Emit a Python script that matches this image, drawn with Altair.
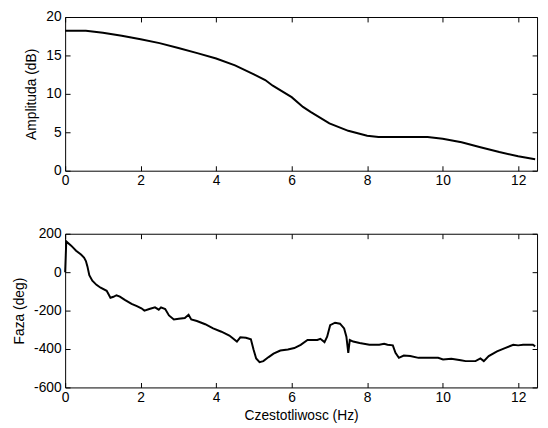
import altair as alt
import pandas as pd

# Amplitude (dB) vs frequency (Hz)
amp_freq = [0.0, 0.55, 1.0, 1.5, 2.0, 2.5, 3.0, 3.5, 4.0, 4.5, 5.0, 5.3, 5.5, 6.0, 6.3,
            6.5, 7.0, 7.5, 8.0, 8.3, 9.0, 9.6, 10.0, 10.5, 11.0, 11.5, 12.0, 12.45]
amp_db = [18.2, 18.2, 17.96, 17.57, 17.1, 16.6, 15.96, 15.3, 14.6, 13.7, 12.55, 11.8, 11.06, 9.57, 8.3,
          7.66, 6.17, 5.19, 4.55, 4.38, 4.38, 4.38, 4.17, 3.7, 3.06, 2.43, 1.87, 1.5]

# Phase (deg) vs frequency (Hz)
ph_freq = [0.0, 0.03, 0.16, 0.29, 0.42, 0.5, 0.55, 0.59, 0.64, 0.72, 0.83, 0.94, 1.1, 1.15, 1.2,
           1.28, 1.36, 1.45, 1.58, 1.76, 1.9, 2.02, 2.1, 2.23, 2.38, 2.48, 2.54, 2.65, 2.75, 2.88,
           3.01, 3.17, 3.27, 3.34, 3.49, 3.71, 3.92, 4.14, 4.35, 4.55, 4.64, 4.79, 4.92, 4.99, 5.06,
           5.15, 5.25, 5.39, 5.52, 5.7, 5.9, 6.07, 6.24, 6.42, 6.68, 6.76, 6.87, 6.94, 7.02, 7.15,
           7.28, 7.39, 7.45, 7.5, 7.54, 7.63, 7.8, 8.06, 8.32, 8.45, 8.54, 8.68, 8.75, 8.84, 8.97,
           9.14, 9.36, 9.88, 10.01, 10.23, 10.48, 10.61, 10.87, 11.0, 11.09, 11.22, 11.44, 11.65, 11.87,
           12.0, 12.13, 12.39, 12.45]
ph_deg = [0, 160, 138, 112, 92, 76, 58, 30, -16, -44, -66, -81, -97, -115, -133,
          -128, -120, -127, -144, -165, -177, -188, -200, -192, -183, -195, -183, -192, -225, -246,
          -242, -239, -222, -246, -254, -271, -293, -310, -330, -361, -339, -341, -349, -403, -449,
          -468, -463, -442, -424, -408, -402, -395, -378, -353, -353, -347, -364, -336, -276, -263,
          -268, -293, -336, -420, -353, -361, -369, -378, -378, -373, -378, -381, -420, -446, -434,
          -436, -446, -446, -454, -451, -458, -463, -463, -449, -463, -437, -412, -395, -378,
          -381, -378, -378, -386]

x_ticks = [0, 2, 4, 6, 8, 10, 12]
amp_ticks = [0, 5, 10, 15, 20]
ph_ticks = [-600, -400, -200, 0, 200]

FONT = "Liberation Sans"
FS = 14
W, H = 479, 156

amp_df = pd.DataFrame({"f": amp_freq, "v": amp_db})
ph_df = pd.DataFrame({"f": ph_freq, "v": ph_deg})


def panel(df, ydom, yticks, ytitle, xtitle):
    xs = alt.Scale(domain=[0, 12.5], nice=False, zero=False)
    ys = alt.Scale(domain=ydom, nice=False, zero=False)
    common = dict(tickSize=5, offset=-5, domain=False, grid=False, tickColor="black",
                  labelColor="black", labelFont=FONT, labelFontSize=FS, labelFlush=False,
                  titleFont=FONT, titleFontSize=FS, titleFontWeight="normal", titleColor="black",
                  labelExpr="toString(datum.value)")
    xa = alt.Axis(values=x_ticks, orient="bottom", labelPadding=3, titlePadding=5,
                  title=xtitle if xtitle else None, **common)
    ya = alt.Axis(values=yticks, orient="left", labelPadding=4, titlePadding=7,
                  title=ytitle, **common)
    line = alt.Chart(df).mark_line(color="black", strokeWidth=2).encode(
        x=alt.X("f:Q", scale=xs, axis=xa),
        y=alt.Y("v:Q", scale=ys, axis=ya),
    )
    common2 = dict(tickSize=5, offset=-5, domain=False, grid=False, tickColor="black",
                   labels=False, title=None)
    over = alt.Chart(df).mark_line(opacity=0).encode(
        x=alt.X("f:Q", scale=xs, axis=alt.Axis(values=x_ticks, orient="top", **common2)),
        y=alt.Y("v:Q", scale=ys, axis=alt.Axis(values=yticks, orient="right", **common2)),
    )
    return alt.layer(line, over).resolve_axis(x="independent", y="independent").properties(
        width=W, height=H)


top = panel(amp_df, [0, 20], amp_ticks, "Amplituda (dB)", None)
bottom = panel(ph_df, [-600, 200], ph_ticks, "Faza (deg)", "Czestotliwosc (Hz)")

chart = alt.vconcat(top, bottom, spacing=38).properties(
    padding={"left": 4, "top": -2, "right": 0, "bottom": 0},
    background="white",
).configure_view(stroke="black", strokeWidth=1)

chart.save("out.html", embed_options={"renderer": "svg", "actions": False})
